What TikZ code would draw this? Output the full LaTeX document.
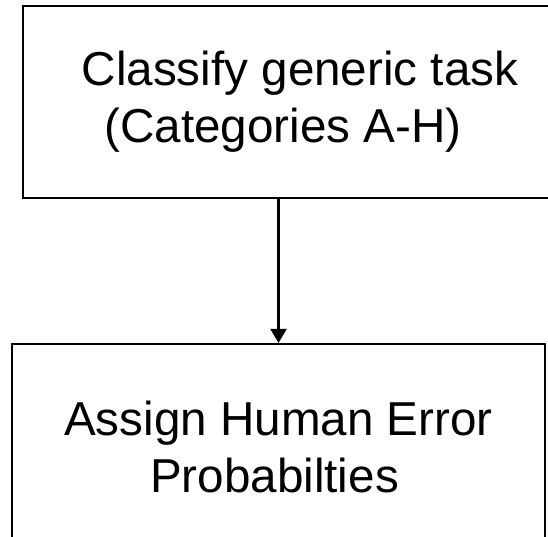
\documentclass[tikz,border=0pt]{standalone}
\usepackage{fontspec}
\setmainfont{Liberation Sans}
\usetikzlibrary{arrows.meta}
\tikzset{stepbox/.style={draw,line width=2.2pt,align=center,inner sep=0pt,
    font=\fontsize{47.6}{57}\selectfont}}
\begin{document}
\begin{tikzpicture}[x=1pt,y=-1pt]
    \useasboundingbox (0,0) rectangle (548,536);
    \clip (0,0) rectangle (548,536);
    \node [stepbox,minimum width=554pt,minimum height=192pt] (classify) at (300,102)
        {Classify generic task\\(Categories A-H)\hspace*{34pt}};
    \node [stepbox,minimum width=533pt,minimum height=206pt] (assign) at (278.5,447)
        {Assign Human Error\\Probabilties\hspace*{8pt}};
    \draw [line width=2.2pt,-{Triangle[width=16pt,length=14pt]}] (assign.north |- classify.south) -- (assign.north);
\end{tikzpicture}
\end{document}
